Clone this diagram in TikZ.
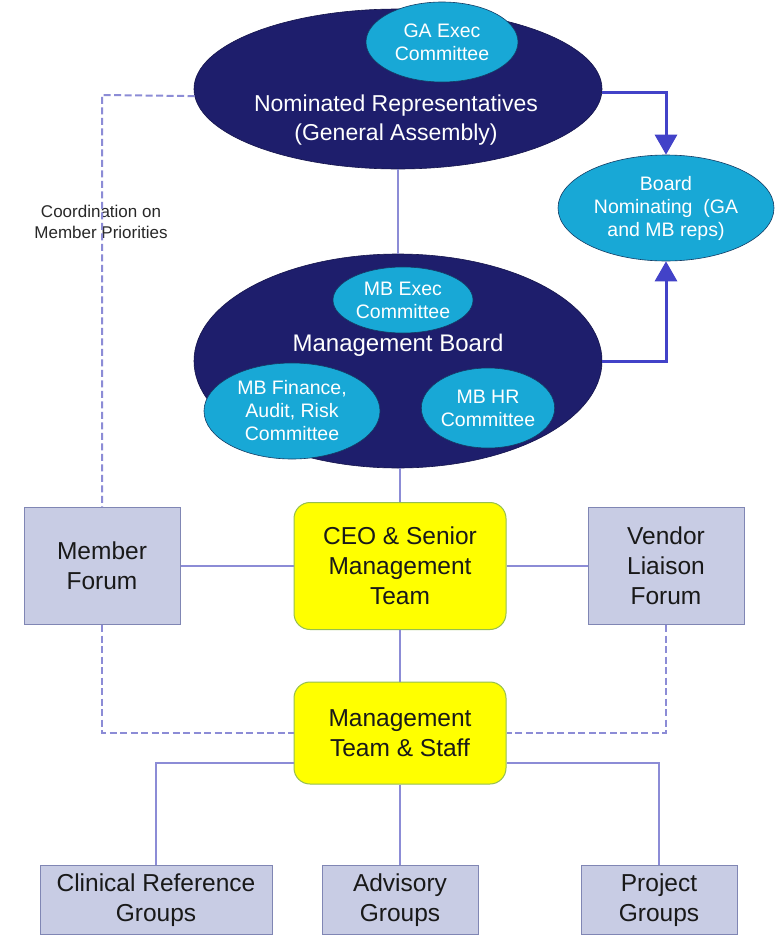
\documentclass[tikz,border=0pt]{standalone}
\usepackage{fontspec}
\setmainfont{Liberation Sans}
\usetikzlibrary{shapes.geometric,arrows.meta}
\definecolor{navy}{RGB}{30,30,108}
\definecolor{cyanc}{RGB}{24,168,214}
\definecolor{cyanb}{RGB}{20,60,100}
\definecolor{boxfill}{RGB}{200,204,228}
\definecolor{boxline}{RGB}{128,134,180}
\definecolor{conn}{RGB}{140,140,214}
\definecolor{arrc}{RGB}{66,66,200}
\definecolor{ylw}{RGB}{255,255,0}
\definecolor{ylwb}{RGB}{150,190,80}
\definecolor{txtgray}{RGB}{40,40,40}
\tikzset{
  bigell/.style={ellipse, fill=navy, draw=navy!70!black, line width=0.6pt, inner sep=0pt},
  smallell/.style={ellipse, fill=cyanc, draw=cyanb, line width=0.6pt, inner sep=0pt, text=white, align=center, font=\fontsize{19.5}{23}\selectfont},
  graybox/.style={rectangle, fill=boxfill, draw=boxline, line width=1pt, align=center, inner sep=0pt, font=\fontsize{24.5}{30}\selectfont, text=black!90},
  ylwbox/.style={rectangle, rounded corners=16pt, fill=ylw, draw=ylwb, line width=1pt, align=center, inner sep=0pt, font=\fontsize{24.5}{30}\selectfont, text=black!90},
  connline/.style={draw=conn, line width=2.2pt},
  dashline/.style={draw=conn, line width=2pt, dash pattern=on 7pt off 3.5pt},
  arrline/.style={draw=arrc, line width=3pt, -{Triangle[width=22pt,length=20pt]}},
  whitetxt/.style={text=white, align=center}
}
\begin{document}
\begin{tikzpicture}[x=1pt,y=-1pt]
\useasboundingbox (0,0) rectangle (775,937);
\fill[white] (0,0) rectangle (775,937);

% top ellipse (General Assembly)
\node[bigell, minimum width=408pt, minimum height=160pt] (ga) at (398,89) {};
\node[smallell, minimum width=152pt, minimum height=80pt] (gaexec) at (442,42) {GA Exec\\Committee};
\node[whitetxt, font=\fontsize{23}{29}\selectfont] (gatxt) at (396,120) {Nominated Representatives\\(General Assembly)};

% board nominating
\node[smallell, minimum width=216pt, minimum height=106pt] (bn) at (666,208) {Board\\Nominating\ \ (GA\\and MB reps)};

% management board
\node[bigell, minimum width=408pt, minimum height=214pt] (mb) at (398,361) {};
\node[smallell, minimum width=140pt, minimum height=66pt] (mbexec) at (403,300) {MB Exec\\Committee};
\node[whitetxt, font=\fontsize{24}{29}\selectfont] (mbtxt) at (398,345) {Management Board};
\node[smallell, minimum width=176pt, minimum height=96pt] (mbfin) at (292,411) {MB Finance,\\Audit, Risk\\Committee};
\node[smallell, minimum width=128pt, minimum height=80pt] (mbhr) at (488,408) {MB HR\\Committee};

% coordination label
\node[text=txtgray, align=center, font=\fontsize{17}{21}\selectfont] (coord) at (101,222) {Coordination on\\Member Priorities};

% boxes
\node[graybox, minimum width=156pt, minimum height=117pt] (member) at (102,566) {Member\\Forum};
\node[ylwbox, minimum width=212pt, minimum height=127pt] (ceo) at (400,566) {CEO \& Senior\\Management\\Team};
\node[graybox, minimum width=156pt, minimum height=117pt] (vendor) at (666,566) {Vendor\\Liaison\\Forum};
\node[ylwbox, minimum width=212pt, minimum height=102pt] (mts) at (400,733) {Management\\Team \& Staff};
\node[graybox, minimum width=232pt, minimum height=69pt] (crg) at (156,900) {Clinical Reference\\Groups};
\node[graybox, minimum width=156pt, minimum height=69pt] (adv) at (400,900) {Advisory\\Groups};
\node[graybox, minimum width=156pt, minimum height=69pt] (proj) at (659,900) {Project\\Groups};

% connectors
\draw[connline] (ga.south) -- (mb.north);
\draw[connline] (ceo.north |- mb.south) -- (ceo.north);
\draw[connline] (member.east) -- (ceo.west);
\draw[connline] (ceo.east) -- (vendor.west);
\draw[connline] (ceo.south) -- (mts.north);
\draw[connline] (mts.south) -- (adv.north);
\draw[connline] (crg.north) |- ([yshift=-30pt]mts.west);
\draw[connline] (proj.north) |- ([yshift=-30pt]mts.east);

% dashed coordination lines
\coordinate (dtop) at (102,95);
\draw[dashline] (ga.182) -- (dtop) -- (member.north);
\draw[dashline] (member.south) |- (mts.west);
\draw[dashline] (vendor.south) |- (mts.east);

% nomination arrows
\draw[arrline] (ga.359) -| (bn.north);
\draw[arrline] (mb.east) -| (bn.south);
\end{tikzpicture}
\end{document}
